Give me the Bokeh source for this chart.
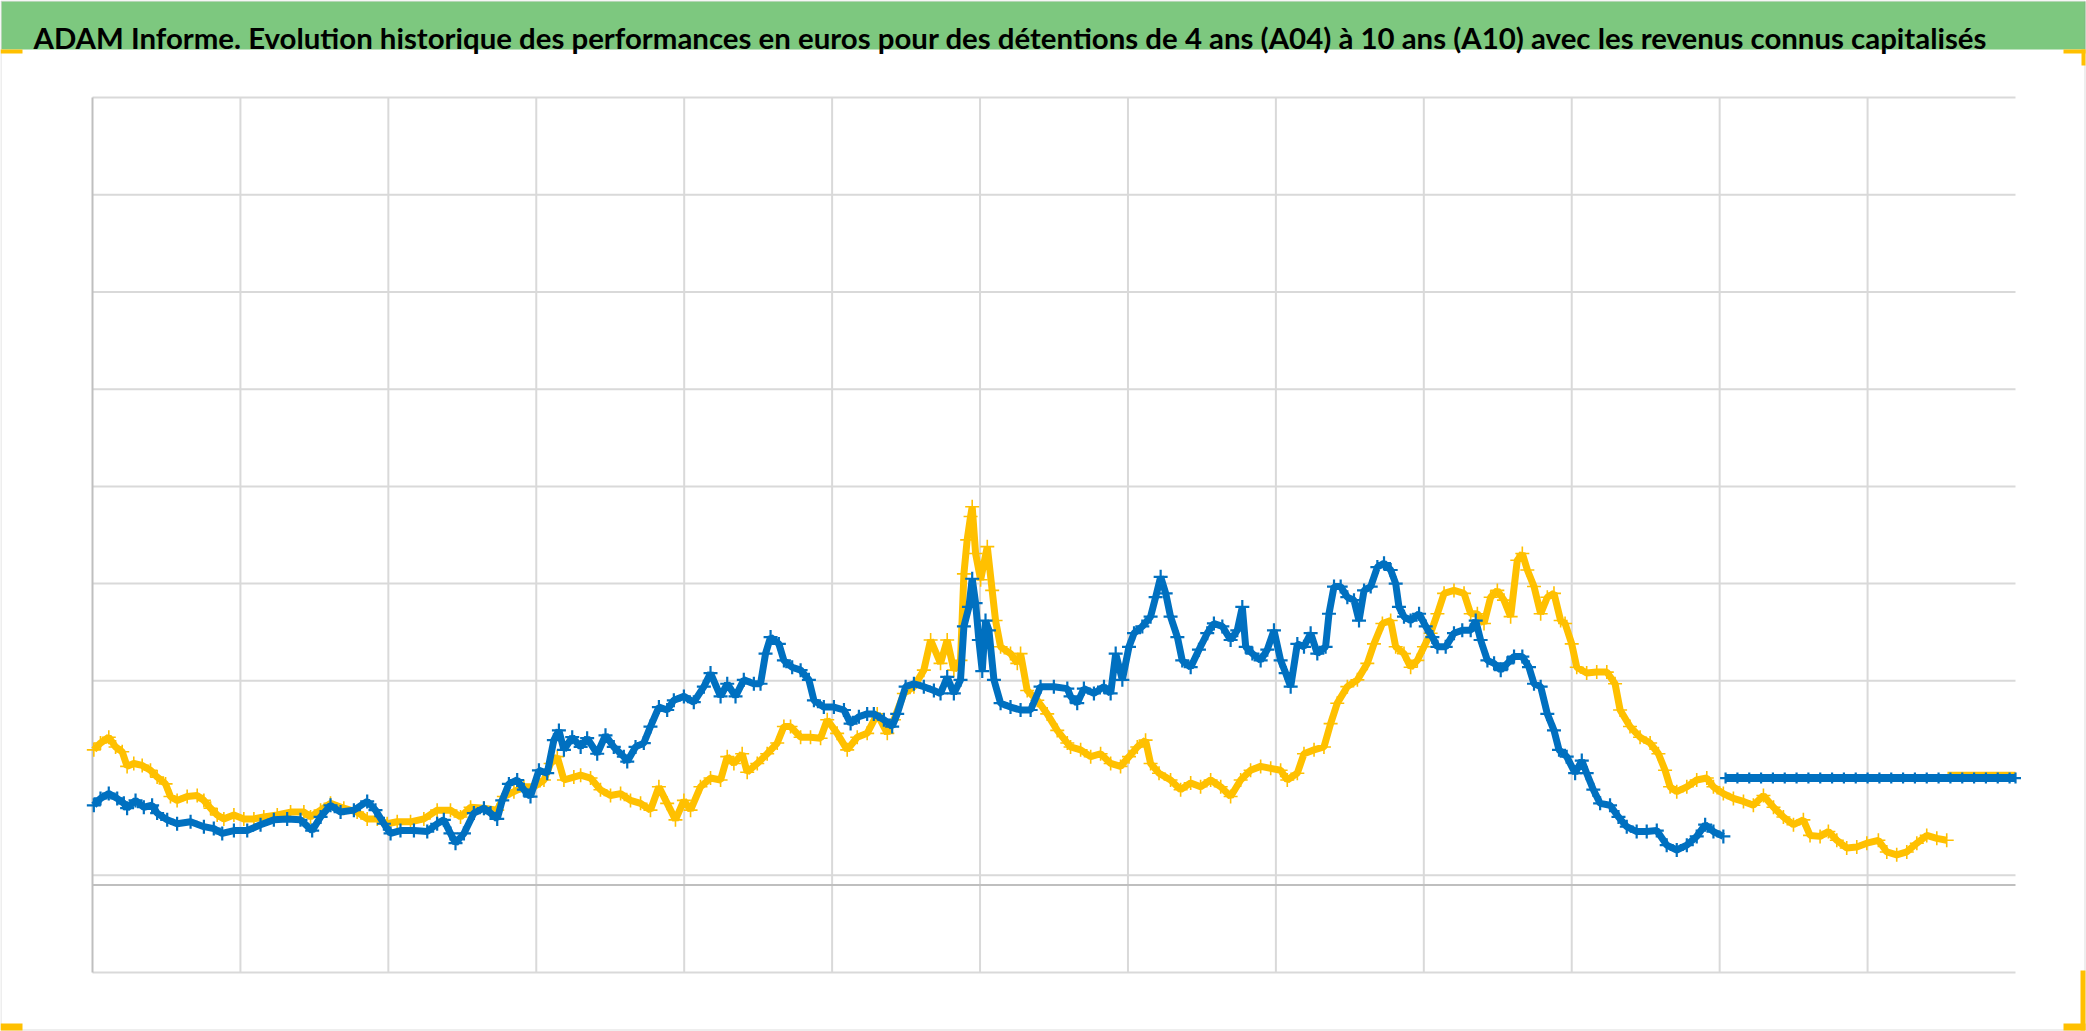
from bokeh.plotting import figure
from bokeh.models import Range1d, BoxAnnotation, Label
from bokeh.embed import file_html
from bokeh.resources import INLINE

TITLE = ("ADAM Informe. Evolution historique des performances en euros pour des "
         "détentions de 4 ans (A04) à 10 ans (A10) avec les revenus connus capitalisés")

# Gold series (x in grid-column units, y in grid-row units)
gold_x = [0.009, 0.054, 0.110, 0.156, 0.201, 0.234, 0.279, 0.336, 0.392, 0.437, 0.494, 0.527,
          0.572, 0.640, 0.708, 0.753, 0.798, 0.843, 0.888, 0.956, 1.023, 1.091, 1.158, 1.249,
          1.339, 1.429, 1.474, 1.542, 1.609, 1.699, 1.789, 1.857, 1.925, 1.992, 2.060, 2.150,
          2.240, 2.330, 2.420, 2.488, 2.556, 2.646, 2.736, 2.781, 2.849, 2.916, 2.984, 3.052,
          3.097, 3.142, 3.187, 3.254, 3.300, 3.367, 3.434, 3.502, 3.570, 3.637, 3.705, 3.772,
          3.829, 3.885, 3.941, 3.998, 4.043, 4.110, 4.178, 4.246, 4.291, 4.336, 4.392, 4.426,
          4.494, 4.561, 4.629, 4.674, 4.719, 4.787, 4.854, 4.922, 4.967, 5.034, 5.102, 5.170,
          5.237, 5.305, 5.373, 5.418, 5.485, 5.553, 5.620, 5.666, 5.733, 5.778, 5.823, 5.868,
          5.891, 5.913, 5.936, 5.947, 5.970, 6.004, 6.049, 6.082, 6.105, 6.139, 6.206, 6.252,
          6.274, 6.319, 6.387, 6.454, 6.522, 6.590, 6.612, 6.680, 6.748, 6.815, 6.883, 6.950,
          7.007, 7.063, 7.119, 7.153, 7.210, 7.288, 7.356, 7.424, 7.491, 7.559, 7.627, 7.694,
          7.762, 7.829, 7.897, 7.965, 8.032, 8.077, 8.145, 8.190, 8.258, 8.325, 8.370, 8.415,
          8.483, 8.551, 8.618, 8.663, 8.720, 8.776, 8.810, 8.866, 8.911, 8.956, 9.001, 9.046,
          9.092, 9.137, 9.204, 9.272, 9.317, 9.362, 9.407, 9.452, 9.497, 9.542, 9.587, 9.632,
          9.666, 9.700, 9.745, 9.790, 9.835, 9.880, 9.925, 9.955, 10.000, 10.034, 10.101, 10.169,
          10.237, 10.293, 10.327, 10.394, 10.462, 10.530, 10.586, 10.631, 10.665, 10.710, 10.778,
          10.845, 10.913, 10.958, 11.025, 11.093, 11.161, 11.228, 11.296, 11.364, 11.431, 11.499,
          11.566, 11.611, 11.679, 11.735, 11.792, 11.859, 11.927, 11.995, 12.073, 12.130, 12.197,
          12.265, 12.333, 12.400, 12.468, 12.535]
gold_y = [2.29, 2.36, 2.42, 2.32, 2.27, 2.12, 2.15, 2.13, 2.08, 2.01, 1.94, 1.81,
          1.77, 1.81, 1.82, 1.77, 1.69, 1.62, 1.58, 1.62, 1.58, 1.58, 1.60, 1.62,
          1.65, 1.65, 1.60, 1.67, 1.74, 1.69, 1.65, 1.58, 1.58, 1.53, 1.55, 1.55,
          1.58, 1.67, 1.67, 1.60, 1.70, 1.69, 1.67, 1.81, 1.86, 1.91, 1.91, 1.98,
          2.15, 2.22, 1.98, 2.01, 2.03, 2.00, 1.88, 1.82, 1.84, 1.77, 1.74, 1.67,
          1.91, 1.74, 1.57, 1.77, 1.67, 1.91, 2.00, 1.98, 2.22, 2.15, 2.25, 2.06,
          2.15, 2.25, 2.36, 2.53, 2.53, 2.42, 2.42, 2.41, 2.60, 2.46, 2.29, 2.42,
          2.46, 2.66, 2.46, 2.60, 2.87, 2.94, 3.11, 3.42, 3.18, 3.42, 3.11, 3.21,
          4.10, 4.45, 4.69, 4.79, 4.31, 4.04, 4.38, 3.93, 3.62, 3.35, 3.28, 3.18,
          3.28, 2.90, 2.80, 2.66, 2.49, 2.36, 2.32, 2.29, 2.22, 2.25, 2.15, 2.12,
          2.22, 2.32, 2.39, 2.15, 2.05, 1.98, 1.88, 1.95, 1.91, 1.98, 1.91, 1.81,
          1.98, 2.08, 2.12, 2.10, 2.08, 1.98, 2.05, 2.25, 2.29, 2.32, 2.56, 2.77,
          2.94, 3.01, 3.18, 3.38, 3.59, 3.62, 3.35, 3.28, 3.14, 3.21, 3.35, 3.49,
          3.69, 3.90, 3.93, 3.90, 3.69, 3.69, 3.59, 3.86, 3.93, 3.83, 3.66, 4.24,
          4.31, 4.14, 3.97, 3.69, 3.86, 3.90, 3.62, 3.59, 3.38, 3.14, 3.08, 3.09,
          3.09, 2.97, 2.70, 2.53, 2.42, 2.36, 2.25, 2.08, 1.91, 1.86, 1.91,
          1.98, 2.00, 1.91, 1.84, 1.79, 1.76, 1.72, 1.82, 1.70, 1.60, 1.52,
          1.57, 1.41, 1.40, 1.45, 1.36, 1.28, 1.29, 1.33, 1.36, 1.24, 1.21,
          1.24, 1.33, 1.41, 1.38, 1.36]

# Blue series
blue_x = [0.009, 0.054, 0.110, 0.167, 0.212, 0.234, 0.291, 0.347, 0.403, 0.437, 0.505, 0.572,
          0.663, 0.753, 0.820, 0.877, 0.956, 1.046, 1.136, 1.226, 1.316, 1.406, 1.485, 1.542,
          1.609, 1.677, 1.767, 1.857, 1.913, 1.970, 2.015, 2.082, 2.173, 2.263, 2.330, 2.375,
          2.420, 2.454, 2.511, 2.578, 2.646, 2.691, 2.736, 2.770, 2.815, 2.871, 2.916, 2.961,
          3.018, 3.074, 3.119, 3.153, 3.187, 3.243, 3.300, 3.344, 3.412, 3.468, 3.524, 3.592,
          3.615, 3.671, 3.727, 3.772, 3.829, 3.885, 3.930, 3.998, 4.065, 4.133, 4.178, 4.246,
          4.291, 4.347, 4.403, 4.471, 4.516, 4.550, 4.584, 4.640, 4.674, 4.730, 4.787, 4.843,
          4.877, 4.944, 5.012, 5.080, 5.125, 5.181, 5.237, 5.282, 5.350, 5.406, 5.440, 5.497,
          5.553, 5.620, 5.688, 5.733, 5.778, 5.823, 5.868, 5.891, 5.925, 5.947, 5.970, 5.992,
          6.015, 6.037, 6.060, 6.094, 6.139, 6.206, 6.274, 6.342, 6.409, 6.499, 6.590, 6.612,
          6.657, 6.702, 6.770, 6.838, 6.883, 6.917, 6.962, 7.007, 7.041, 7.097, 7.153, 7.187,
          7.221, 7.255, 7.288, 7.334, 7.367, 7.424, 7.480, 7.536, 7.581, 7.638, 7.694, 7.739,
          7.773, 7.796, 7.841, 7.897, 7.942, 7.987, 8.032, 8.066, 8.100, 8.145, 8.190, 8.235,
          8.280, 8.336, 8.359, 8.393, 8.438, 8.483, 8.528, 8.562, 8.596, 8.641, 8.686, 8.731,
          8.776, 8.810, 8.832, 8.866, 8.911, 8.968, 9.013, 9.058, 9.092, 9.148, 9.204, 9.260,
          9.317, 9.351, 9.384, 9.430, 9.475, 9.520, 9.565, 9.610, 9.666, 9.711, 9.745, 9.790,
          9.835, 9.880, 9.914, 9.966, 10.023, 10.068, 10.101, 10.146, 10.192, 10.259, 10.316,
          10.372, 10.439, 10.507, 10.575, 10.642, 10.710, 10.778, 10.845, 10.902, 10.958, 11.025]
blue_y = [1.72, 1.79, 1.84, 1.79, 1.74, 1.69, 1.77, 1.70, 1.72, 1.64, 1.57, 1.53,
          1.55, 1.50, 1.48, 1.43, 1.46, 1.46, 1.52, 1.57, 1.58, 1.57, 1.46, 1.60,
          1.72, 1.65, 1.67, 1.76, 1.67, 1.53, 1.43, 1.46, 1.46, 1.45, 1.53, 1.57,
          1.43, 1.33, 1.43, 1.64, 1.69, 1.64, 1.58, 1.77, 1.94, 1.98, 1.88, 1.81,
          2.08, 2.05, 2.39, 2.49, 2.29, 2.42, 2.32, 2.41, 2.25, 2.44, 2.32, 2.22,
          2.17, 2.32, 2.36, 2.53, 2.73, 2.70, 2.80, 2.84, 2.78, 2.94, 3.08, 2.84,
          2.97, 2.84, 3.01, 2.97, 2.97, 3.28, 3.45, 3.38, 3.21, 3.14, 3.11, 3.01,
          2.80, 2.73, 2.73, 2.70, 2.56, 2.63, 2.66, 2.66, 2.60, 2.53, 2.66, 2.94,
          2.97, 2.94, 2.90, 2.87, 3.04, 2.87, 3.01, 3.56, 3.76, 4.05, 3.80, 3.42,
          3.10, 3.62, 3.52, 3.01, 2.77, 2.73, 2.70, 2.70, 2.94, 2.94, 2.92, 2.84,
          2.77, 2.92, 2.87, 2.94, 2.87, 3.28, 3.01, 3.35, 3.49, 3.56, 3.66, 3.86,
          4.07, 3.90, 3.66, 3.45, 3.21, 3.14, 3.32, 3.49, 3.59, 3.56, 3.42, 3.52,
          3.76, 3.35, 3.28, 3.21, 3.32, 3.52, 3.21, 3.08, 2.94, 3.38, 3.35, 3.49,
          3.28, 3.35, 3.69, 3.97, 3.97, 3.86, 3.83, 3.62, 3.93, 3.97, 4.17, 4.21,
          4.14, 4.00, 3.76, 3.66, 3.62, 3.69, 3.56, 3.45, 3.35, 3.35, 3.49, 3.52,
          3.52, 3.62, 3.42, 3.21, 3.18, 3.11, 3.18, 3.25, 3.25, 3.14, 2.97, 2.94,
          2.66, 2.49, 2.29, 2.22, 2.05, 2.18, 2.05, 1.88, 1.74, 1.72, 1.60,
          1.50, 1.45, 1.45, 1.46, 1.31, 1.26, 1.31, 1.40, 1.52, 1.45, 1.40]

# Flat tail segments (constant value) at the right end
blue_flat_x = [11.04, 11.12, 11.20, 11.28, 11.36, 11.44, 11.52, 11.60, 11.68, 11.76, 11.84,
               11.92, 12.00, 12.08, 12.16, 12.24, 12.32, 12.40, 12.48, 12.56, 12.64, 12.72,
               12.80, 12.88, 12.96, 13.00]
blue_flat_y = [2.00] * len(blue_flat_x)
gold_flat_x = [12.54, 12.62, 12.70, 12.78, 12.86, 12.94, 13.00]
gold_flat_y = [2.03] * len(gold_flat_x)

# Gridline positions
x_grid_ticks = [1, 2, 3, 4, 5, 6, 7, 8, 9, 10, 11, 12]
y_grid_ticks = [0, 1, 3, 4, 5, 6, 7, 8, 9]
x_max = 13
y_max = 9
axis_y = 0.9

BLUE = "#0070C0"
GOLD = "#FFC000"
GREEN = "#7DC87F"
ORANGE = "#FFC000"
GRID = "#D9D9D9"
AXIS = "#BFBFBF"

W, H = 2086, 1031
# plot-area placement in pixels
PX_LEFT, PX_RIGHT, PX_TOP, PX_BOTTOM = 92, 2015, 97, 972
ux = (PX_RIGHT - PX_LEFT) / x_max
uy = (PX_BOTTOM - PX_TOP) / y_max

p = figure(width=W, height=H,
           x_range=Range1d(-PX_LEFT / ux, (W - PX_LEFT) / ux),
           y_range=Range1d(-(H - PX_BOTTOM) / uy, PX_BOTTOM / uy),
           x_axis_location=None, y_axis_location=None, toolbar_location=None,
           output_backend="svg", min_border=0)
p.outline_line_color = None
p.background_fill_color = "white"
p.border_fill_color = "white"
p.grid.visible = False

nx, ny = len(x_grid_ticks), len(y_grid_ticks)
# gridlines limited to the plot area
p.segment(x0=x_grid_ticks, y0=[0] * nx, x1=x_grid_ticks, y1=[y_max] * nx,
          line_color=GRID, line_width=2)
p.segment(x0=[0] * ny, y0=y_grid_ticks, x1=[x_max] * ny, y1=y_grid_ticks,
          line_color=GRID, line_width=2)
# axis lines
p.segment(x0=[0], y0=[0], x1=[0], y1=[y_max], line_color=AXIS, line_width=2)
p.segment(x0=[0], y0=[axis_y], x1=[x_max], y1=[axis_y], line_color=AXIS, line_width=2)

# gold first, blue on top
p.line(gold_x, gold_y, line_color=GOLD, line_width=7)
p.scatter(gold_x, gold_y, marker="cross", size=14, line_color=GOLD, line_width=1.6)
p.line(gold_flat_x, gold_flat_y, line_color=GOLD, line_width=7)

p.line(blue_x, blue_y, line_color=BLUE, line_width=7)
p.scatter(blue_x, blue_y, marker="cross", size=14, line_color=BLUE, line_width=2.2)
p.line(blue_flat_x, blue_flat_y, line_color=BLUE, line_width=8)
p.scatter(blue_flat_x, blue_flat_y, marker="cross", size=11, line_color=BLUE, line_width=2.2)

def canvas_box(l, r, t, b, **kw):
    return BoxAnnotation(left=l, right=r, top=t, bottom=b,
                         left_units="canvas", right_units="canvas",
                         top_units="canvas", bottom_units="canvas", **kw)

# title band, frame border and corner handles
p.add_layout(canvas_box(1, W - 1, 1, 49, fill_color=GREEN, fill_alpha=1.0, line_color=None))
p.add_layout(canvas_box(0.5, W - 1.5, 0.5, H - 1.5, fill_alpha=0,
                        line_color="#8C8C8C", line_width=1))
p.add_layout(canvas_box(0, 22, 49, 53, fill_color=ORANGE, fill_alpha=1, line_color=None))
p.add_layout(canvas_box(0, 22, 1023, 1030, fill_color=ORANGE, fill_alpha=1, line_color=None))
p.add_layout(canvas_box(2063, 2085, 49, 53, fill_color=ORANGE, fill_alpha=1, line_color=None))
p.add_layout(canvas_box(2081, 2085, 49, 65, fill_color=ORANGE, fill_alpha=1, line_color=None))
p.add_layout(canvas_box(2063, 2085, 1023, 1030, fill_color=ORANGE, fill_alpha=1, line_color=None))
p.add_layout(canvas_box(2080, 2085, 970, 1030, fill_color=ORANGE, fill_alpha=1, line_color=None))

p.add_layout(Label(x=33, y=37, x_units="canvas", y_units="canvas", text=TITLE,
                   text_font="Lato", text_font_style="bold",
                   text_font_size="29.4px", text_color="black",
                   text_baseline="alphabetic", text_align="left"))

open("out.html", "w").write(file_html(p, INLINE))
